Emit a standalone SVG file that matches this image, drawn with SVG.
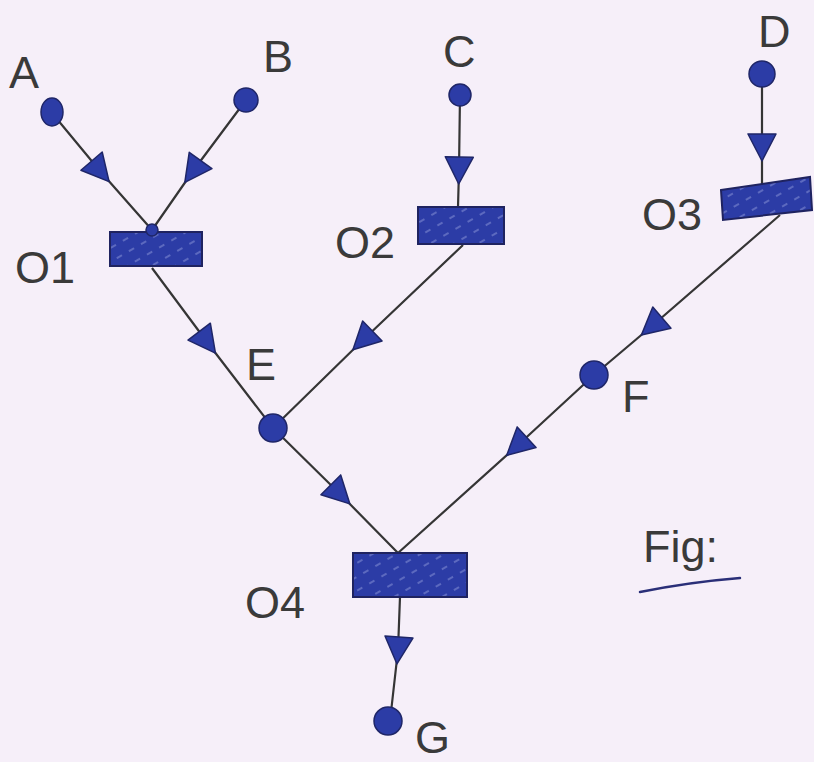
<svg xmlns="http://www.w3.org/2000/svg" width="814" height="762" viewBox="0 0 814 762">
<style>
.lbl{font-family:"Liberation Sans",Arial,sans-serif;font-size:45px;fill:#3a3a3a}
.edge{fill:none;stroke:#353535;stroke-width:2.2;marker-mid:url(#tri)}
.dot{fill:#2c3ca6;stroke:#1f2668;stroke-width:1.5}
.bar{fill:url(#hatch);stroke:#1f2360;stroke-width:2}
</style>
<defs>
<marker id="tri" viewBox="-16 -16 32 32" markerWidth="32" markerHeight="32" refX="0" refY="0" orient="auto" markerUnits="userSpaceOnUse">
<path d="M-13,-14 L14,0 L-13,14 Z" fill="#2c3ca6" stroke="#1f2668" stroke-width="1.5" stroke-linejoin="round"/>
</marker>
<pattern id="hatch" width="14" height="12" patternUnits="userSpaceOnUse" patternTransform="rotate(-30)">
<rect width="14" height="12" fill="#2c3ca6"/>
<line x1="0" y1="6" x2="6" y2="6" stroke="#8d97d8" stroke-width="1"/>
</pattern>
</defs>
<rect width="814" height="762" fill="#f6eff9"/>
<g id="connectors">
<polyline class="edge" points="52,113 100,171 152,230"/>
<polyline class="edge" points="246,100 193,171 152,230"/>
<polyline class="edge" points="460,95 459,170 458,207"/>
<polyline class="edge" points="762,74 762,147 762,185"/>
<polyline class="edge" points="152,268 207,342 273,428"/>
<polyline class="edge" points="463,245 363,340 273,428"/>
<polyline class="edge" points="780,215 652,326 594,375"/>
<polyline class="edge" points="273,428 340,494 398,553"/>
<polyline class="edge" points="594,375 517,446 398,553"/>
<polyline class="edge" points="400,597 398,650 390,721"/>
<path d="M640,592 Q690,582 740,578" fill="none" stroke="#2a2f78" stroke-width="2.5" stroke-linecap="round"/>
</g>
<g id="A"><ellipse class="dot" cx="52" cy="112" rx="11" ry="14"/><text class="lbl" x="9" y="88">A</text></g>
<g id="B"><circle class="dot" cx="246" cy="100" r="12"/><text class="lbl" x="263" y="72">B</text></g>
<g id="C"><circle class="dot" cx="460" cy="95" r="11"/><text class="lbl" x="443" y="67">C</text></g>
<g id="D"><circle class="dot" cx="762" cy="74" r="13"/><text class="lbl" x="758" y="47">D</text></g>
<g id="O1"><rect class="bar" x="110" y="232" width="92" height="34"/><circle class="dot" cx="152" cy="230" r="6"/><text class="lbl" x="15" y="283">O1</text></g>
<g id="O2"><rect class="bar" x="418" y="207" width="86" height="37"/><text class="lbl" x="335" y="258">O2</text></g>
<g id="O3"><polygon class="bar" points="721,190 810,177 812,210 723,220"/><text class="lbl" x="642" y="230">O3</text></g>
<g id="O4"><rect class="bar" x="353" y="553" width="114" height="44"/><text class="lbl" x="245" y="618">O4</text></g>
<g id="E"><circle class="dot" cx="273" cy="428" r="14"/><text class="lbl" x="246" y="380">E</text></g>
<g id="F"><circle class="dot" cx="594" cy="375" r="14"/><text class="lbl" x="622" y="412">F</text></g>
<g id="G"><circle class="dot" cx="388" cy="721" r="14"/><text class="lbl" x="415" y="753">G</text></g>
<g id="fig"><text class="lbl" x="643" y="562">Fig:</text></g>
</svg>
